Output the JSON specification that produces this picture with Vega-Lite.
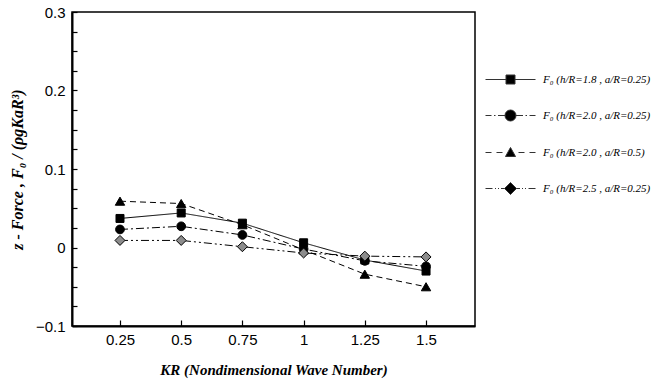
{
  "$schema": "https://vega.github.io/schema/vega-lite/v6.json",
  "autosize": {"type": "none"},
  "padding": {"left": 72, "top": 12, "right": 190, "bottom": 57},
  "width": 403,
  "height": 314,
  "background": "white",
  "config": {
    "view": {"stroke": "black", "strokeWidth": 1.5},
    "axis": {
      "grid": false,
      "domainColor": "black",
      "domainWidth": 2,
      "tickColor": "black",
      "tickWidth": 1.2,
      "labelFont": "Liberation Sans",
      "labelFontSize": 15,
      "labelColor": "black",
      "titleFont": "Liberation Serif",
      "titleFontStyle": "italic",
      "titleFontWeight": "bold",
      "titleFontSize": 15,
      "titleColor": "black"
    }
  },
  "data": {
    "values": [
      {"series": "F₀ (h/R=1.8 , a/R=0.25)", "KR": 0.25, "F": 0.037},
      {"series": "F₀ (h/R=1.8 , a/R=0.25)", "KR": 0.5, "F": 0.044},
      {"series": "F₀ (h/R=1.8 , a/R=0.25)", "KR": 0.75, "F": 0.031},
      {"series": "F₀ (h/R=1.8 , a/R=0.25)", "KR": 1.0, "F": 0.006},
      {"series": "F₀ (h/R=1.8 , a/R=0.25)", "KR": 1.25, "F": -0.016},
      {"series": "F₀ (h/R=1.8 , a/R=0.25)", "KR": 1.5, "F": -0.030},
      {"series": "F₀ (h/R=2.0 , a/R=0.25)", "KR": 0.25, "F": 0.023},
      {"series": "F₀ (h/R=2.0 , a/R=0.25)", "KR": 0.5, "F": 0.027},
      {"series": "F₀ (h/R=2.0 , a/R=0.25)", "KR": 0.75, "F": 0.016},
      {"series": "F₀ (h/R=2.0 , a/R=0.25)", "KR": 1.0, "F": -0.002},
      {"series": "F₀ (h/R=2.0 , a/R=0.25)", "KR": 1.25, "F": -0.017},
      {"series": "F₀ (h/R=2.0 , a/R=0.25)", "KR": 1.5, "F": -0.024},
      {"series": "F₀ (h/R=2.0 , a/R=0.5)", "KR": 0.25, "F": 0.059},
      {"series": "F₀ (h/R=2.0 , a/R=0.5)", "KR": 0.5, "F": 0.056},
      {"series": "F₀ (h/R=2.0 , a/R=0.5)", "KR": 0.75, "F": 0.029},
      {"series": "F₀ (h/R=2.0 , a/R=0.5)", "KR": 1.0, "F": -0.003},
      {"series": "F₀ (h/R=2.0 , a/R=0.5)", "KR": 1.25, "F": -0.034},
      {"series": "F₀ (h/R=2.0 , a/R=0.5)", "KR": 1.5, "F": -0.050},
      {"series": "F₀ (h/R=2.5 , a/R=0.25)", "KR": 0.25, "F": 0.009},
      {"series": "F₀ (h/R=2.5 , a/R=0.25)", "KR": 0.5, "F": 0.009},
      {"series": "F₀ (h/R=2.5 , a/R=0.25)", "KR": 0.75, "F": 0.001},
      {"series": "F₀ (h/R=2.5 , a/R=0.25)", "KR": 1.0, "F": -0.007},
      {"series": "F₀ (h/R=2.5 , a/R=0.25)", "KR": 1.25, "F": -0.011},
      {"series": "F₀ (h/R=2.5 , a/R=0.25)", "KR": 1.5, "F": -0.012}
    ]
  },
  "encoding": {
    "x": {
      "field": "KR",
      "type": "quantitative",
      "scale": {"domain": [0.054, 1.7], "nice": false, "zero": false},
      "axis": {
        "title": "KR (Nondimensional Wave Number)",
        "values": [0.25, 0.5, 0.75, 1, 1.25, 1.5],
        "labelExpr": "format(datum.value, '~g')",
        "tickSize": -6,
        "labelPadding": 12,
        "titlePadding": 15
      }
    },
    "y": {
      "field": "F",
      "type": "quantitative",
      "scale": {"domain": [-0.1, 0.3], "nice": false, "zero": false},
      "axis": {
        "title": "z - Force ,  F₀ / (ρgKaR³)",
        "titleFontSize": 16,
        "values": [-0.1, -0.075, -0.05, -0.025, 0, 0.025, 0.05, 0.075, 0.1, 0.125, 0.15, 0.175, 0.2, 0.225, 0.25, 0.275, 0.3],
        "labelExpr": "abs(datum.value * 10 - round(datum.value * 10)) < 0.001 ? format(datum.value, '~g') : ''",
        "tickSize": -5,
        "labelPadding": 12,
        "titlePadding": 10
      }
    }
  },
  "resolve": {"scale": {"shape": "independent", "fill": "independent"}},
  "layer": [
    {
      "mark": {"type": "line", "color": "black", "strokeWidth": 1},
      "encoding": {
        "detail": {"field": "series"},
        "strokeDash": {
          "field": "series",
          "scale": {
            "domain": ["F₀ (h/R=1.8 , a/R=0.25)", "F₀ (h/R=2.0 , a/R=0.25)", "F₀ (h/R=2.0 , a/R=0.5)", "F₀ (h/R=2.5 , a/R=0.25)"],
            "range": [[1, 0], [8, 3, 2, 3], [6, 4], [8, 3, 2, 3, 2, 3]]
          },
          "legend": null
        }
      }
    },
    {
      "mark": {"type": "point", "filled": true, "stroke": "black", "strokeWidth": 1, "opacity": 1},
      "encoding": {
        "shape": {
          "field": "series",
          "scale": {
            "domain": ["F₀ (h/R=1.8 , a/R=0.25)", "F₀ (h/R=2.0 , a/R=0.25)", "F₀ (h/R=2.0 , a/R=0.5)", "F₀ (h/R=2.5 , a/R=0.25)"],
            "range": ["square", "circle", "triangle-up", "diamond"]
          },
          "legend": null
        },
        "fill": {
          "field": "series",
          "scale": {
            "domain": ["F₀ (h/R=1.8 , a/R=0.25)", "F₀ (h/R=2.0 , a/R=0.25)", "F₀ (h/R=2.0 , a/R=0.5)", "F₀ (h/R=2.5 , a/R=0.25)"],
            "range": ["black", "black", "black", "#8c8c8c"]
          },
          "legend": null
        },
        "size": {
          "field": "series",
          "scale": {
            "domain": ["F₀ (h/R=1.8 , a/R=0.25)", "F₀ (h/R=2.0 , a/R=0.25)", "F₀ (h/R=2.0 , a/R=0.5)", "F₀ (h/R=2.5 , a/R=0.25)"],
            "range": [64, 100, 80, 90]
          },
          "legend": null
        }
      }
    },
    {
      "mark": {"type": "point", "filled": false, "fill": "black", "stroke": "#333333", "strokeWidth": 1, "opacity": 0},
      "encoding": {
        "shape": {
          "field": "series",
          "scale": {
            "domain": ["F₀ (h/R=1.8 , a/R=0.25)", "F₀ (h/R=2.0 , a/R=0.25)", "F₀ (h/R=2.0 , a/R=0.5)", "F₀ (h/R=2.5 , a/R=0.25)"],
            "range": [
              "M-2.5,0H-0.45M0.45,0H2.5M-0.45,-0.45H0.45V0.45H-0.45Z",
              "M-2.5,0H-1.9M-1.65,0H-1.5M-1.25,0H-0.5M0.5,0H1.25M1.5,0H1.65M1.9,0H2.5M-0.55,0A0.55,0.55,0,1,0,0.55,0A0.55,0.55,0,1,0,-0.55,0Z",
              "M-2.5,0H-1.9M-1.4,0H-0.8M0.8,0H1.4M1.9,0H2.5M0,-0.5L0.5,0.4H-0.5Z",
              "M-2.5,0H-1.8M-1.55,0H-1.45M-1.25,0H-1.15M-0.95,0H-0.6M0.6,0H0.95M1.15,0H1.25M1.45,0H1.55M1.8,0H2.5M0,-0.6L0.6,0L0,0.6L-0.6,0Z"
            ]
          },
          "legend": {
            "title": null,
            "orient": "none",
            "legendX": 428,
            "legendY": 57,
            "padding": 0,
            "symbolSize": 400,
            "symbolOpacity": 1,
            "symbolStrokeWidth": 1,
            "labelFont": "Liberation Serif",
            "labelFontStyle": "italic",
            "labelFontSize": 11,
            "labelColor": "black",
            "labelOffset": 22,
            "labelLimit": 200,
            "rowPadding": 19
          }
        }
      }
    }
  ]
}
